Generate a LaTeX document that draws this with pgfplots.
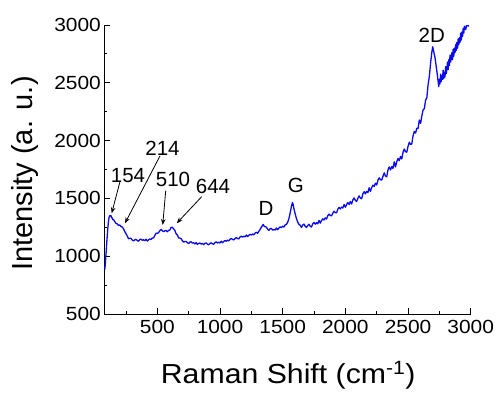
\documentclass[border=0pt]{standalone}
\usepackage{fontspec}
\setmainfont{Liberation Sans}
\newfontfamily\tickfont{Liberation Sans}[FakeStretch=1.1]
\newfontfamily\xlabfont{Liberation Sans}[FakeStretch=1.1]
\usepackage{pgfplots}
\pgfplotsset{compat=1.18}
\usetikzlibrary{arrows.meta}
\begin{document}
\begin{tikzpicture}
\path[use as bounding box] (0,0) rectangle (499pt,392pt);
\begin{axis}[
  at={(104.3pt,78pt)}, anchor=south west,
  scale only axis, width=366.4pt, height=289pt,
  xmin=77, xmax=3000, ymin=500, ymax=3000,
  axis x line*=bottom, axis y line*=left,
  axis line style={black, line width=0.9pt, -},
  xtick={500,1000,...,3000}, ytick={500,1000,...,3000},
  minor xtick={250,750,1250,1750,2250,2750},
  minor ytick={750,1250,1750,2250,2750},
  tick align=inside,
  major tick length=5.7pt, minor tick length=3pt,
  tick style={black, line width=0.9pt},
  /pgf/number format/assume math mode=true,
  /pgf/number format/1000 sep={},
  tick label style={font=\tickfont\fontsize{19}{20}\selectfont},
  xticklabel style={yshift=-2.5pt},
  xlabel={Raman Shift (cm\textsuperscript{-1})},
  xlabel style={font=\xlabfont\fontsize{27.5}{30}\selectfont, at={(axis description cs:0.502,-0.240)}, anchor=base},
  ylabel={Intensity (a. u.)},
  ylabel style={font=\fontsize{29}{30}\selectfont, at={(axis description cs:-0.2164,0.486)}, anchor=center},
  clip mode=individual,
]
\addplot[color={rgb,255:red,10;green,10;blue,240}, line width=1.3pt, line join=round] coordinates {
(80,880) (85,930) (90,1010) (95,1090) (100,1170) (105,1240) (110,1300) (115,1335) (120,1350) (125,1346)
(130,1352) (135,1335) (140,1330) (145,1316) (150,1318) (160,1300) (170,1284) (180,1280) (190,1266) (200,1270)
(210,1258) (220,1252) (230,1238) (240,1214) (250,1196) (260,1175) (270,1151) (280,1155) (290,1154) (300,1140)
(310,1132) (320,1141) (330,1146) (340,1135) (350,1130) (360,1144) (370,1148) (380,1137) (390,1142) (400,1134)
(410,1147) (420,1131) (430,1142) (440,1150) (450,1144) (460,1158) (470,1158) (480,1180) (490,1199) (500,1198)
(510,1204) (520,1221) (530,1232) (540,1220) (550,1212) (560,1220) (570,1222) (580,1212) (590,1224) (600,1226)
(610,1249) (620,1250) (630,1236) (640,1223) (650,1194) (660,1183) (670,1158) (680,1157) (690,1151) (700,1134)
(710,1122) (720,1127) (730,1128) (740,1116) (750,1110) (760,1122) (770,1125) (780,1113) (790,1116) (800,1106)
(810,1118) (820,1102) (830,1110) (840,1114) (850,1104) (860,1111) (870,1100) (880,1112) (890,1115) (900,1104)
(910,1099) (920,1110) (930,1116) (940,1107) (950,1103) (960,1119) (970,1124) (980,1114) (990,1121) (1000,1114)
(1010,1130) (1020,1116) (1030,1128) (1040,1136) (1050,1129) (1060,1139) (1070,1132) (1080,1146) (1090,1153) (1100,1145)
(1110,1141) (1120,1153) (1130,1161) (1140,1152) (1150,1150) (1160,1167) (1170,1173) (1180,1165) (1190,1173) (1200,1167)
(1210,1183) (1220,1170) (1230,1181) (1240,1189) (1250,1183) (1260,1192) (1270,1185) (1280,1200) (1290,1207) (1300,1198)
(1310,1215) (1320,1232) (1330,1250) (1340,1268) (1345,1275) (1350,1262) (1360,1255) (1370,1252) (1380,1234) (1390,1224)
(1400,1238) (1410,1240) (1420,1225) (1430,1232) (1440,1226) (1450,1244) (1460,1229) (1470,1244) (1480,1254) (1490,1247)
(1500,1260) (1510,1252) (1520,1271) (1530,1275) (1540,1295) (1550,1325) (1560,1375) (1570,1432) (1578,1465) (1585,1440)
(1590,1410) (1600,1365) (1610,1325) (1620,1295) (1630,1275) (1640,1267) (1650,1249) (1660,1270) (1670,1278) (1680,1258)
(1690,1249) (1700,1266) (1710,1277) (1720,1259) (1730,1253) (1740,1281) (1750,1292) (1760,1277) (1770,1290) (1780,1280)
(1790,1309) (1800,1286) (1810,1308) (1820,1323) (1830,1313) (1840,1332) (1850,1321) (1860,1350) (1870,1364) (1880,1352)
(1890,1349) (1900,1372) (1910,1389) (1920,1377) (1930,1375) (1940,1407) (1950,1422) (1960,1409) (1970,1425) (1980,1417)
(1990,1447) (2000,1424) (2010,1446) (2020,1464) (2030,1448) (2040,1472) (2050,1452) (2060,1488) (2070,1504) (2080,1483)
(2090,1474) (2100,1502) (2110,1522) (2120,1502) (2130,1497) (2140,1540) (2150,1558) (2160,1539) (2170,1561) (2180,1550)
(2190,1592) (2200,1561) (2210,1593) (2220,1615) (2230,1603) (2240,1631) (2250,1616) (2260,1657) (2270,1678) (2280,1662)
(2290,1658) (2300,1691) (2310,1721) (2320,1693) (2330,1687) (2340,1747) (2350,1772) (2360,1746) (2370,1775) (2380,1759)
(2390,1817) (2400,1772) (2410,1816) (2420,1846) (2430,1826) (2440,1863) (2450,1841) (2460,1898) (2470,1927) (2480,1904)
(2490,1900) (2500,1950) (2510,1986) (2520,1967) (2530,1971) (2540,2042) (2550,2079) (2560,2065) (2570,2107) (2580,2105)
(2590,2178) (2600,2149) (2610,2212) (2620,2266) (2630,2276) (2640,2350) (2650,2370) (2660,2483) (2670,2555) (2680,2670)
(2690,2765) (2697,2812) (2705,2770) (2715,2720) (2725,2640) (2735,2560) (2745,2466) (2750,2530) (2755,2490) (2760,2575)
(2765,2510) (2770,2560) (2775,2530) (2780,2610) (2785,2535) (2790,2590) (2795,2550) (2800,2640) (2805,2580) (2810,2620)
(2815,2680) (2820,2615) (2825,2700) (2830,2650) (2835,2740) (2840,2680) (2845,2720) (2850,2760) (2855,2700) (2860,2790)
(2865,2730) (2870,2800) (2875,2760) (2880,2830) (2885,2780) (2890,2850) (2895,2800) (2900,2880) (2905,2830) (2910,2890)
(2915,2850) (2920,2930) (2925,2870) (2930,2940) (2935,2900) (2940,2970) (2945,2930) (2950,2990) (2960,2960) (2970,3010)
(2980,2990) (2990,3030) (3000,3020)
};
\begin{scope}[font=\fontsize{20.5}{22}\selectfont]
\node at (axis cs:266,1702) {154};
\node at (axis cs:541,1936) {214};
\node at (axis cs:625,1668) {510};
\node at (axis cs:944,1607) {644};
\node at (axis cs:1367,1413) {D};
\node at (axis cs:1605,1612) {G};
\node at (axis cs:2689,2909) {2D};
\end{scope}
\begin{scope}[black, line width=0.8pt, -{Stealth[length=6pt,width=4.5pt]}]
\draw (axis cs:202,1645) -- (axis cs:136,1371);
\draw (axis cs:521,1867) -- (axis cs:242,1285);
\draw (axis cs:567,1567) -- (axis cs:543,1270);
\draw (axis cs:854,1515) -- (axis cs:655,1285);
\end{scope}
\end{axis}
\end{tikzpicture}
\end{document}
